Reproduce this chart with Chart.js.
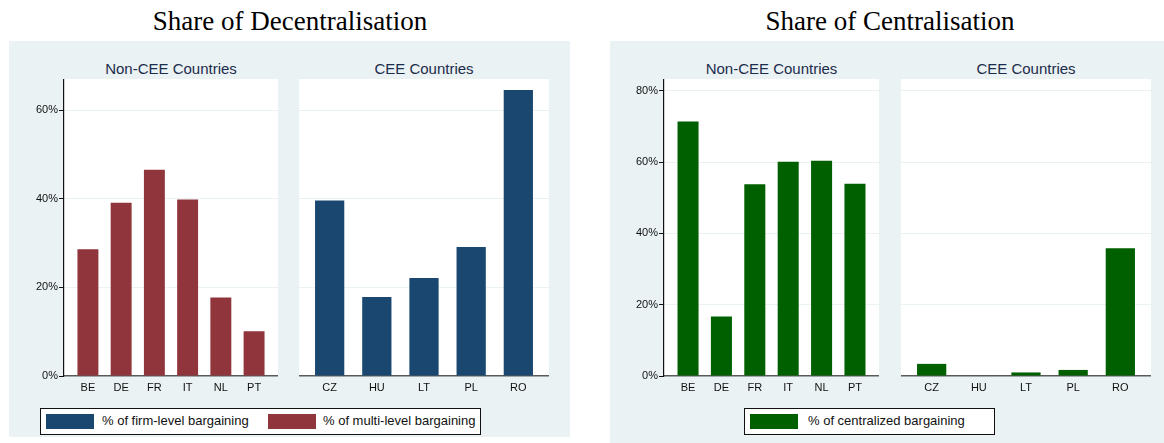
<!DOCTYPE html>
<html>
<head>
<meta charset="utf-8">
<script src="https://cdn.jsdelivr.net/npm/chart.js@4.4.1/dist/chart.umd.min.js"></script>
<style>
  body { margin: 0; background: #fff; }
  #wrap { position: relative; width: 1164px; height: 443px; overflow: hidden; font-family: "Liberation Sans", Arial, sans-serif; }
  .panel { position: absolute; background: #eaf2f3; }
  .title { position: absolute; text-align: center; font-family: "Liberation Serif", "Times New Roman", serif; font-size: 27px; color: #000; }
  .sub { position: absolute; text-align: center; font-size: 15px; color: #1c2c4c; }
  canvas { position: absolute; }
  .legend { position: absolute; background: #fff; border: 1px solid #111; height: 25px; }
  .sw { position: absolute; top: 5px; width: 48px; height: 15px; }
  .lt { position: absolute; top: 4px; font-size: 13px; color: #111; white-space: nowrap; }
</style>
</head>
<body>
<div id="wrap">
  <div class="title" style="left:0;width:580px;top:6px">Share of Decentralisation</div>
  <div class="title" style="left:600px;width:580px;top:6px">Share of Centralisation</div>

  <div class="panel" style="left:9px;top:41px;width:561px;height:396px"></div>
  <div class="panel" style="left:610px;top:41px;width:554px;height:402px"></div>

  <div class="sub" style="left:64px;width:214px;top:60px">Non-CEE Countries</div>
  <div class="sub" style="left:299px;width:250px;top:60px">CEE Countries</div>
  <div class="sub" style="left:664px;width:215px;top:60px">Non-CEE Countries</div>
  <div class="sub" style="left:901px;width:250px;top:60px">CEE Countries</div>

  <canvas id="decNon" width="248" height="315" style="left:30px;top:79px"></canvas>
  <canvas id="decCee" width="250" height="315" style="left:299px;top:79px"></canvas>
  <canvas id="cenNon" width="249" height="315" style="left:630px;top:79px"></canvas>
  <canvas id="cenCee" width="250" height="315" style="left:901px;top:79px"></canvas>

  <div class="legend" style="left:40px;top:408px;width:439px">
    <div class="sw" style="left:5px;background:#1a476f"></div>
    <div class="lt" style="left:61px">% of firm-level bargaining</div>
    <div class="sw" style="left:227px;background:#90353b"></div>
    <div class="lt" style="left:282px">% of multi-level bargaining</div>
  </div>
  <div class="legend" style="left:744px;top:408px;width:249px">
    <div class="sw" style="left:5px;background:#006000"></div>
    <div class="lt" style="left:63px">% of centralized bargaining</div>
  </div>
</div>

<script>
// categories
const nonCeeCountries = ['BE', 'DE', 'FR', 'IT', 'NL', 'PT'];
const ceeCountries = ['CZ', 'HU', 'LT', 'PL', 'RO'];

// share of decentralisation (%)
const multiLevelNonCee = [28.6, 39.1, 46.5, 39.8, 17.7, 10.1];
const firmLevelCee = [39.6, 17.8, 22.1, 29.1, 64.5];

// share of centralisation (%)
const centralNonCee = [71.4, 16.7, 53.8, 60.1, 60.4, 53.9];
const centralCee = [3.4, 0, 1.0, 1.7, 35.8];

// y ticks
const decTicks = [0, 20, 40, 60];
const cenTicks = [0, 20, 40, 60, 80];

const NAVY = '#1a476f';
const MAROON = '#90353b';
const GREEN = '#006000';

const whitePlot = {
  id: 'whitePlot',
  beforeDraw(chart) {
    const a = chart.chartArea;
    const ctx = chart.ctx;
    ctx.save();
    ctx.fillStyle = '#fff';
    ctx.fillRect(a.left, a.top, a.right - a.left, a.bottom - a.top);
    ctx.restore();
  }
};

function makeBars(id, cats, values, color, yMax, yTicks, showAxis, pad, barPct) {
  const last = cats.length - 1;
  new Chart(document.getElementById(id), {
    type: 'bar',
    data: {
      datasets: [{
        data: values.map((v, i) => ({ x: i, y: v })),
        backgroundColor: color,
        borderWidth: 0,
        categoryPercentage: 1,
        barPercentage: barPct
      }]
    },
    options: {
      responsive: false,
      animation: false,
      devicePixelRatio: 1,
      layout: { padding: 0 },
      plugins: { legend: { display: false }, tooltip: { enabled: false } },
      scales: {
        x: {
          type: 'linear',
          offset: false,
          min: -pad,
          max: last + pad,
          grid: { display: false, drawTicks: false, tickLength: 0, offset: false },
          border: { display: true, color: '#5a5a5a', width: 1.5 },
          ticks: {
            stepSize: 1,
            padding: 5,
            color: '#111',
            font: { family: 'Liberation Sans', size: 11 },
            callback: v => cats[v]
          },
          afterBuildTicks: s => { s.ticks = cats.map((c, i) => ({ value: i })); },
          afterFit: s => { s.height = 18; s.paddingLeft = 0; s.paddingRight = 0; }
        },
        y: {
          min: 0,
          max: yMax,
          grid: {
            color: '#eaf2f3',
            lineWidth: 1,
            drawTicks: showAxis,
            tickLength: 5,
            tickColor: '#111'
          },
          border: { display: showAxis, color: '#111', width: 1.2 },
          ticks: {
            display: showAxis,
            padding: 1,
            color: '#111',
            font: { family: 'Liberation Sans', size: 11 },
            callback: v => v + '%'
          },
          afterBuildTicks: s => { s.ticks = yTicks.map(v => ({ value: v })); },
          afterFit: s => { s.width = showAxis ? 34 : 0; s.paddingTop = 0; s.paddingBottom = 0; }
        }
      }
    },
    plugins: [whitePlot]
  });
}

makeBars('decNon', nonCeeCountries, multiLevelNonCee, MAROON, 67, decTicks, true, 0.72, 0.63);
makeBars('decCee', ceeCountries, firmLevelCee, NAVY, 67, decTicks, false, 0.65, 0.62);
makeBars('cenNon', nonCeeCountries, centralNonCee, GREEN, 83.3, cenTicks, true, 0.72, 0.63);
makeBars('cenCee', ceeCountries, centralCee, GREEN, 83.3, cenTicks, false, 0.65, 0.62);
</script>
</body>
</html>
